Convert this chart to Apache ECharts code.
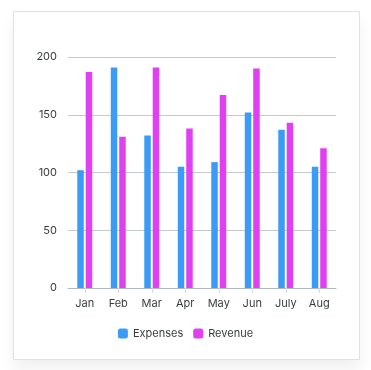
<!DOCTYPE html>
<html>
<head>
<meta charset="utf-8">
<script src="https://cdn.jsdelivr.net/npm/echarts@6/dist/echarts.min.js"></script>
<style>
html,body{margin:0;padding:0;background:#fff;width:371px;height:370px;overflow:hidden;}
#card{position:absolute;left:13px;top:11px;width:345px;height:347px;border:1px solid #e2e2e2;background:#fff;box-shadow:0 10px 14px rgba(0,0,0,0.06);}
#chart{position:absolute;left:0;top:0;width:371px;height:370px;}
</style>
</head>
<body>
<div id="card"></div>
<div id="chart"></div>
<script>
const categories = ['Jan','Feb','Mar','Apr','May','Jun','July','Aug'];
const expenses = [102,191,132,105,109,152,137,105];
const revenue = [187,131,191,138,167,190,143,121];
const yTicks = [0,50,100,150,200];

const chart = echarts.init(document.getElementById('chart'), null, {renderer:'canvas'});
const font = 'Inter, "Noto Sans", sans-serif';
chart.setOption({
  backgroundColor: 'transparent',
  animation: false,
  textStyle: {fontFamily: font},
  grid: {left: 68, right: 35, top: 57, bottom: 82, containLabel: false},
  legend: {
    data: ['Expenses','Revenue'],
    left: 'center',
    top: 323,
    icon: 'roundRect',
    itemWidth: 10,
    itemHeight: 10,
    itemGap: 10,
    textStyle: {color: '#373d3f', fontSize: 11, fontFamily: font}
  },
  xAxis: {
    type: 'category',
    data: categories,
    axisLine: {lineStyle: {color: '#b0b8c0', width: 1}},
    axisTick: {show: true, alignWithLabel: true, length: 5, lineStyle: {color: '#d5d9dd'}},
    axisLabel: {color: '#373d3f', fontSize: 11, margin: 10, fontFamily: font},
    splitLine: {show: false}
  },
  yAxis: {
    type: 'value',
    min: yTicks[0],
    max: yTicks[yTicks.length-1],
    interval: 50,
    axisLine: {show: false},
    axisTick: {show: false},
    axisLabel: {color: '#373d3f', fontSize: 11, margin: 11, fontFamily: font},
    splitLine: {lineStyle: {color: '#c2c9d0', width: 1}}
  },
  series: [
    {name: 'Expenses', type: 'bar', data: expenses, barWidth: 6.5, barGap: '30%',
     itemStyle: {color: '#3a9cf7'}},
    {name: 'Revenue', type: 'bar', data: revenue, barWidth: 6.5,
     itemStyle: {color: '#e040f2'}}
  ]
});
</script>
</body>
</html>
